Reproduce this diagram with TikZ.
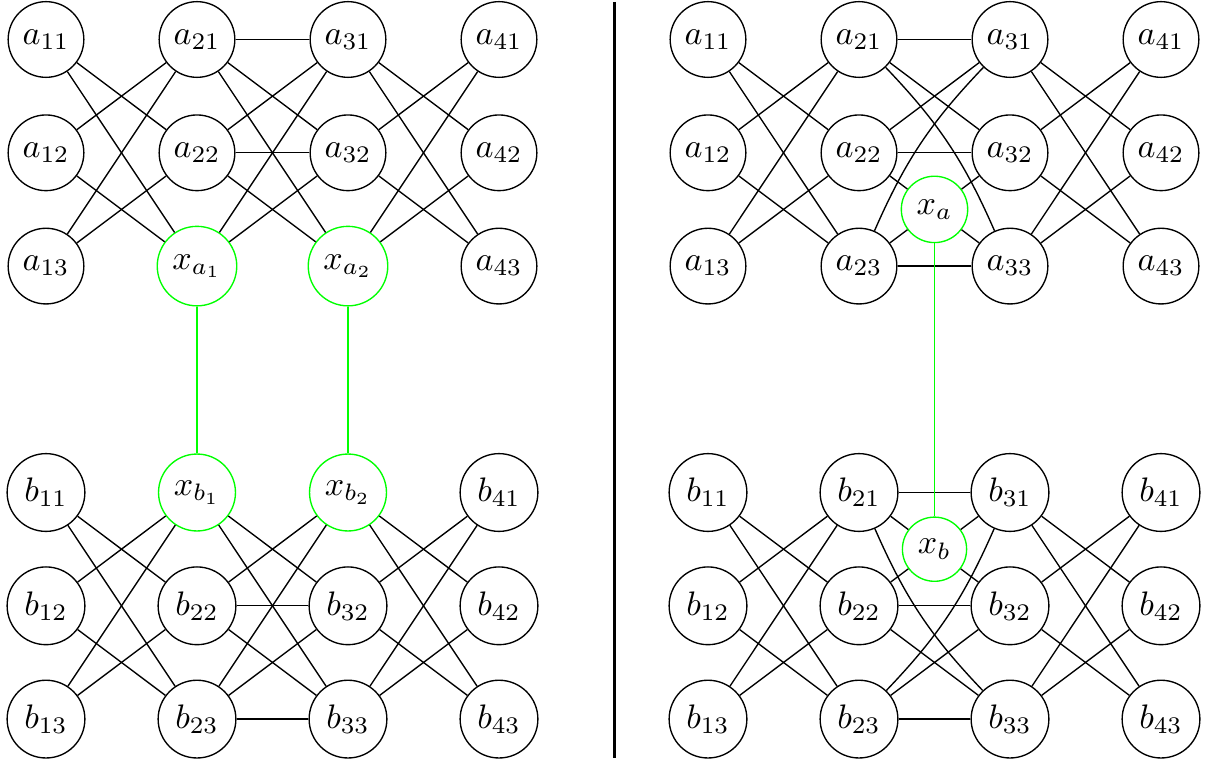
\documentclass[tikz,border=0pt]{standalone}
\tikzset{
  vtx/.style={circle,draw=black,text=black,inner sep=2.73pt,line width=0.4pt},
  gvtx/.style={circle,draw=green,text=black,inner sep=2.73pt,line width=0.4pt},
  edge/.style={draw=black,line width=0.4pt},
  gedge/.style={draw=green,line width=0.4pt},
  sep/.style={draw=black,line width=0.6pt}
}
\begin{document}
\begin{tikzpicture}[x=0.29412pt,y=-0.29412pt]
\useasboundingbox (0,0) rectangle (1205,760);
% ---------- left panel, top ----------
\foreach \n/\x/\y in {11/46/39.5,12/46/152.8,13/46/266.1,21/197/39.5,22/197/152.8,31/348/39.5,32/348/152.8,41/499/39.5,42/499/152.8,43/499/266.1}
  \node[vtx] (LA\n) at (\x,\y) {$a_{\n}$};
\node[gvtx,alias=LA23] (xa1) at (197,266.1) {$x_{a_1}$};
\node[gvtx,alias=LA33] (xa2) at (348,266.1) {$x_{a_2}$};
% ---------- left panel, bottom ----------
\foreach \n/\x/\y in {11/46/492.5,12/46/605.8,13/46/719.1,22/197/605.8,23/197/719.1,32/348/605.8,33/348/719.1,41/499/492.5,42/499/605.8,43/499/719.1}
  \node[vtx] (LB\n) at (\x,\y) {$b_{\n}$};
\node[gvtx,alias=LB21] (xb1) at (197,492.5) {$x_{b_1}$};
\node[gvtx,alias=LB31] (xb2) at (348,492.5) {$x_{b_2}$};
% ---------- right panel, top ----------
\foreach \n/\x/\y in {11/708/39.5,12/708/152.8,13/708/266.1,21/859/39.5,22/859/152.8,23/859/266.1,31/1010/39.5,32/1010/152.8,33/1010/266.1,41/1161/39.5,42/1161/152.8,43/1161/266.1}
  \node[vtx] (RA\n) at (\x,\y) {$a_{\n}$};
\node[gvtx] (xa) at (934.5,209.4) {$x_{a}$};
% ---------- right panel, bottom ----------
\foreach \n/\x/\y in {11/708/492.5,12/708/605.8,13/708/719.1,21/859/492.5,22/859/605.8,23/859/719.1,31/1010/492.5,32/1010/605.8,33/1010/719.1,41/1161/492.5,42/1161/605.8,43/1161/719.1}
  \node[vtx] (RB\n) at (\x,\y) {$b_{\n}$};
\node[gvtx] (xb) at (934.5,549.2) {$x_{b}$};
% ---------- edges ----------
\foreach \u/\v in {11/22,11/23,12/21,12/23,13/21,13/22,21/31,21/32,21/33,22/31,22/32,22/33,23/31,23/32,31/42,31/43,32/41,32/43,33/41,33/42}
  \draw[edge] (LA\u) -- (LA\v);
\foreach \u/\v in {11/22,11/23,12/21,12/23,13/21,13/22,21/32,21/33,22/31,22/32,22/33,23/31,23/32,23/33,31/42,31/43,32/41,32/43,33/41,33/42}
  \draw[edge] (LB\u) -- (LB\v);
\foreach \u/\v in {11/22,11/23,12/21,12/23,13/21,13/22,21/31,21/32,22/31,22/32,23/33,31/42,31/43,32/41,32/43,33/41,33/42}
  \draw[edge] (RA\u) -- (RA\v);
\draw[edge] (RA21) to[bend left=10] (RA33);
\draw[edge] (RA23) to[bend left=10] (RA31);
\foreach \u in {22,23,32,33}
  \draw[edge] (RA\u) -- (xa);
\foreach \u/\v in {11/22,11/23,12/21,12/23,13/21,13/22,21/31,22/32,22/33,23/32,23/33,31/42,31/43,32/41,32/43,33/41,33/42}
  \draw[edge] (RB\u) -- (RB\v);
\draw[edge] (RB21) to[bend right=10] (RB33);
\draw[edge] (RB23) to[bend right=10] (RB31);
\foreach \u in {21,22,31,32}
  \draw[edge] (RB\u) -- (xb);
% ---------- green links ----------
\draw[gedge] (xa1) -- (xb1);
\draw[gedge] (xa2) -- (xb2);
\draw[gedge] (xa) -- (xb);
% ---------- separator ----------
\coordinate (septop) at (614.5,2);
\coordinate (sepbot) at (614.5,758);
\draw[sep] (septop) -- (sepbot);
\end{tikzpicture}
\end{document}
